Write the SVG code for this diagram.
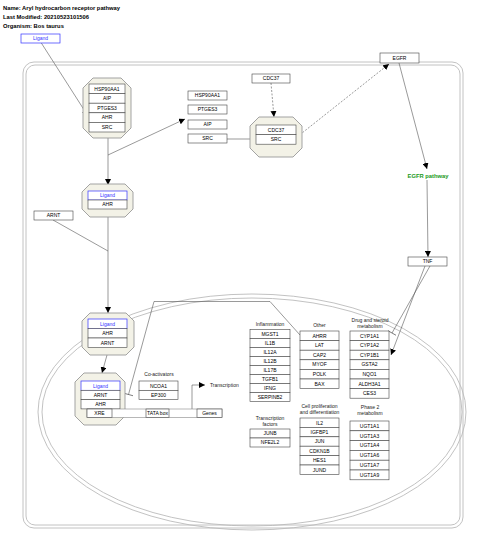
<svg xmlns="http://www.w3.org/2000/svg" width="480" height="544" viewBox="0 0 480 544">
<defs>
<style>
.hd{font-family:"Liberation Sans",Arial,sans-serif;font-size:5.8px;font-weight:bold;fill:#000}
.t{font-family:"Liberation Sans",Arial,sans-serif;font-size:5px;text-anchor:middle;fill:#000}
.lb{font-family:"Liberation Sans",Arial,sans-serif;font-size:5px;text-anchor:middle;fill:#222}
.b{fill:#fff;stroke:#444;stroke-width:0.6}
.lig{fill:#fff;stroke:#3333ff;stroke-width:0.7}
.ligt{fill:#3333ff}
.cx{fill:#f3f2e7;stroke:#999;stroke-width:0.9}
.ln{stroke:#555;stroke-width:0.6;fill:none}
.dash{stroke-dasharray:2,1.5}
.sh{fill:none;stroke:#bbb;stroke-width:0.9}
</style>
<marker id="ar" markerUnits="userSpaceOnUse" markerWidth="6" markerHeight="6" refX="6" refY="3" orient="auto">
<path d="M0,0 L6,3 L0,6 z" fill="#000"/>
</marker>
<marker id="tb" markerUnits="userSpaceOnUse" markerWidth="2" markerHeight="10" refX="1" refY="5" orient="auto">
<path d="M1,0 L1,10" stroke="#555" stroke-width="0.7"/>
</marker>
</defs>
<rect width="480" height="544" fill="#fff"/>
<text class="hd" x="3" y="10">Name: Aryl hydrocarbon receptor pathway</text>
<text class="hd" x="3" y="18.5">Last Modified: 20210523101506</text>
<text class="hd" x="3" y="27.5">Organism: Bos taurus</text>

<g id="cell">
<rect class="sh" x="23" y="62" width="440" height="466" rx="11"/>
<rect class="sh" x="26" y="65" width="434" height="460" rx="9"/>
</g>
<g id="nucleus">
<ellipse class="sh" cx="252" cy="412" rx="214" ry="118"/>
<ellipse class="sh" cx="252" cy="412" rx="210" ry="114"/>
</g>

<g id="connectors">
<path class="ln" d="M40.7,42 L88,116" marker-end="url(#ar)"/>
<path class="ln" d="M108,138 L108,185" marker-end="url(#ar)"/>
<path class="ln" d="M108,155 L185,119" marker-end="url(#ar)"/>
<path class="ln" d="M227,139 L256,139" marker-end="url(#ar)"/>
<path class="ln dash" d="M271,83 L274,117" marker-end="url(#ar)"/>
<path class="ln dash" d="M297,137 L389,64" marker-end="url(#ar)"/>
<path class="ln" d="M399,63 L427,169" marker-end="url(#ar)"/>
<path class="ln" d="M427,180 L428,257" marker-end="url(#ar)"/>
<path class="ln" d="M430,266 L392,333" marker-end="url(#tb)"/>
<path class="ln" d="M425,266 L391,355" marker-end="url(#ar)"/>
<path class="ln" d="M108,217 L108,313" marker-end="url(#ar)"/>
<path class="ln" d="M53,220 L108,251"/>
<path class="ln" d="M107,355 L102,373" marker-end="url(#ar)"/>
<path class="ln" d="M300,335 L270,301.5 L154,301.5 L128.5,394.5" marker-end="url(#tb)"/>
<path class="ln" d="M192,409 L192,385 L205,385" marker-end="url(#ar)"/>
</g>

<g id="ligand0"><rect class="lig" x="21" y="34" width="39" height="9"/><text class="t ligt" x="40.5" y="40.3">Ligand</text></g>

<g id="complex1">
<polygon class="cx" points="93,78 121,78 131,88 131,128 121,138 93,138 83,128 83,88"/>
<rect class="b" x="89" y="84" width="36" height="9.6"/><text class="t" x="107" y="90.6">HSP90AA1</text>
<rect class="b" x="89" y="93.6" width="36" height="9.6"/><text class="t" x="107" y="100.2">AIP</text>
<rect class="b" x="89" y="103.2" width="36" height="9.6"/><text class="t" x="107" y="109.8">PTGES3</text>
<rect class="b" x="89" y="112.8" width="36" height="9.6"/><text class="t" x="107" y="119.4">AHR</text>
<rect class="b" x="89" y="122.4" width="36" height="9.6"/><text class="t" x="107" y="129">SRC</text>
</g>

<g id="hsp90aa1"><rect class="b" x="188" y="91" width="39" height="9"/><text class="t" x="207.5" y="97.3">HSP90AA1</text></g>
<g id="ptges3"><rect class="b" x="188" y="105" width="39" height="9"/><text class="t" x="207.5" y="111.3">PTGES3</text></g>
<g id="aip"><rect class="b" x="188" y="120" width="39" height="9"/><text class="t" x="207.5" y="126.3">AIP</text></g>
<g id="src"><rect class="b" x="188" y="134" width="39" height="9"/><text class="t" x="207.5" y="140.3">SRC</text></g>
<g id="cdc37"><rect class="b" x="252" y="74" width="38" height="9"/><text class="t" x="271" y="80.3">CDC37</text></g>

<g id="complex2">
<polygon class="cx" points="259,117 293,117 302,126 302,148 293,157 259,157 250,148 250,126"/>
<rect class="b" x="256" y="125" width="40" height="9.6"/><text class="t" x="276" y="131.6">CDC37</text>
<rect class="b" x="256" y="134.6" width="40" height="9.6"/><text class="t" x="276" y="141.2">SRC</text>
</g>

<g id="egfr"><rect class="b" x="380" y="53" width="39" height="10"/><text class="t" x="399.5" y="59.8">EGFR</text></g>
<g id="egfrpathway"><text x="428" y="177.5" style="font-family:'Liberation Sans',Arial,sans-serif;font-size:5.8px;font-weight:bold;fill:#1a9a1a;text-anchor:middle">EGFR pathway</text></g>
<g id="tnf"><rect class="b" x="408" y="257" width="39" height="9"/><text class="t" x="427.5" y="263.3">TNF</text></g>

<g id="complex3">
<polygon class="cx" points="90,184 125,184 133,192 133,209 125,217 90,217 82,209 82,192"/>
<rect class="lig" x="88" y="191" width="39" height="9"/><text class="t ligt" x="107.5" y="197.3">Ligand</text>
<rect class="b" x="88" y="200" width="39" height="9"/><text class="t" x="107.5" y="206.3">AHR</text>
</g>
<g id="arnt"><rect class="b" x="34" y="211" width="39" height="9"/><text class="t" x="53.5" y="217.3">ARNT</text></g>

<g id="complex4">
<polygon class="cx" points="90,313 126,313 134,321 134,347 126,355 90,355 82,347 82,321"/>
<rect class="lig" x="88" y="319" width="39" height="9.5"/><text class="t ligt" x="107.5" y="325.6">Ligand</text>
<rect class="b" x="88" y="328.5" width="39" height="9.5"/><text class="t" x="107.5" y="335.1">AHR</text>
<rect class="b" x="88" y="338" width="39" height="9.5"/><text class="t" x="107.5" y="344.6">ARNT</text>
</g>

<g id="complex5">
<polygon class="cx" points="84,373 116,373 125,382 125,416 116,425 84,425 75,416 75,382"/>
<rect class="lig" x="81" y="381" width="39" height="9.3"/><text class="t ligt" x="100.5" y="387.5">Ligand</text>
<rect class="b" x="81" y="390.3" width="39" height="9.3"/><text class="t" x="100.5" y="396.8">ARNT</text>
<rect class="b" x="81" y="399.6" width="39" height="9.3"/><text class="t" x="100.5" y="406.1">AHR</text>
</g>
<g id="dna">
<rect x="87" y="409" width="135" height="8.5" fill="#fff" stroke="#888" stroke-width="0.6"/>
<rect class="b" x="87" y="409" width="25" height="8.5"/><text class="t" x="99.5" y="415.2">XRE</text>
<rect class="b" x="146" y="409" width="23" height="8.5"/><text class="t" x="157.5" y="415.2">TATA box</text>
<rect class="b" x="197" y="409" width="25" height="8.5"/><text class="t" x="209.5" y="415.2">Genes</text>
</g>
<g id="transcription"><text class="lb" x="210" y="387" style="text-anchor:start">Transcription</text></g>

<g id="coactivators">
<text class="lb" x="159" y="376">Co-activators</text>
<rect class="b" x="139" y="381" width="39" height="9.3"/><text class="t" x="158.5" y="387.5">NCOA1</text>
<rect class="b" x="139" y="390.3" width="39" height="9.3"/><text class="t" x="158.5" y="396.8">EP300</text>
</g>

<g id="inflammation">
<text class="lb" x="270" y="325.5">Inflammation</text>
<rect class="b" x="250" y="329.5" width="40" height="9"/><text class="t" x="270" y="335.8">MGST1</text>
<rect class="b" x="250" y="338.5" width="40" height="9"/><text class="t" x="270" y="344.8">IL1B</text>
<rect class="b" x="250" y="347.5" width="40" height="9"/><text class="t" x="270" y="353.8">IL12A</text>
<rect class="b" x="250" y="356.5" width="40" height="9"/><text class="t" x="270" y="362.8">IL12B</text>
<rect class="b" x="250" y="365.5" width="40" height="9"/><text class="t" x="270" y="371.8">IL17B</text>
<rect class="b" x="250" y="374.5" width="40" height="9"/><text class="t" x="270" y="380.8">TGFB1</text>
<rect class="b" x="250" y="383.5" width="40" height="9"/><text class="t" x="270" y="389.8">IFNG</text>
<rect class="b" x="250" y="392.5" width="40" height="9"/><text class="t" x="270" y="398.8">SERPINB2</text>
</g>

<g id="tfs">
<text class="lb" x="270" y="420">Transcription</text>
<text class="lb" x="270" y="426">factors</text>
<rect class="b" x="250" y="429" width="40" height="9"/><text class="t" x="270" y="435.3">JUNB</text>
<rect class="b" x="250" y="438" width="40" height="9"/><text class="t" x="270" y="444.3">NFE2L2</text>
</g>

<g id="other">
<text class="lb" x="319.5" y="326.5">Other</text>
<rect class="b" x="300" y="331" width="39" height="9.6"/><text class="t" x="319.5" y="337.6">AHRR</text>
<rect class="b" x="300" y="340.6" width="39" height="9.6"/><text class="t" x="319.5" y="347.2">LAT</text>
<rect class="b" x="300" y="350.2" width="39" height="9.6"/><text class="t" x="319.5" y="356.8">CAP2</text>
<rect class="b" x="300" y="359.8" width="39" height="9.6"/><text class="t" x="319.5" y="366.4">MYOF</text>
<rect class="b" x="300" y="369.4" width="39" height="9.6"/><text class="t" x="319.5" y="376">POLK</text>
<rect class="b" x="300" y="379" width="39" height="9.6"/><text class="t" x="319.5" y="385.6">BAX</text>
</g>

<g id="cellprolif">
<text class="lb" x="319.5" y="407.5">Cell proliferation</text>
<text class="lb" x="319.5" y="413.5">and differentiation</text>
<rect class="b" x="300" y="418" width="39" height="9.4"/><text class="t" x="319.5" y="424.5">IL2</text>
<rect class="b" x="300" y="427.4" width="39" height="9.4"/><text class="t" x="319.5" y="433.9">IGFBP1</text>
<rect class="b" x="300" y="436.8" width="39" height="9.4"/><text class="t" x="319.5" y="443.3">JUN</text>
<rect class="b" x="300" y="446.2" width="39" height="9.4"/><text class="t" x="319.5" y="452.7">CDKN1B</text>
<rect class="b" x="300" y="455.6" width="39" height="9.4"/><text class="t" x="319.5" y="462.1">HES1</text>
<rect class="b" x="300" y="465" width="39" height="9.4"/><text class="t" x="319.5" y="471.5">JUND</text>
</g>

<g id="drug">
<text class="lb" x="370" y="322">Drug and steroid</text>
<text class="lb" x="370" y="328">metabolism</text>
<rect class="b" x="350" y="331" width="39" height="9.6"/><text class="t" x="369.5" y="337.6">CYP1A1</text>
<rect class="b" x="350" y="340.6" width="39" height="9.6"/><text class="t" x="369.5" y="347.2">CYP1A2</text>
<rect class="b" x="350" y="350.2" width="39" height="9.6"/><text class="t" x="369.5" y="356.8">CYP1B1</text>
<rect class="b" x="350" y="359.8" width="39" height="9.6"/><text class="t" x="369.5" y="366.4">GSTA2</text>
<rect class="b" x="350" y="369.4" width="39" height="9.6"/><text class="t" x="369.5" y="376">NQO1</text>
<rect class="b" x="350" y="379" width="39" height="9.6"/><text class="t" x="369.5" y="385.6">ALDH3A1</text>
<rect class="b" x="350" y="388.6" width="39" height="9.6"/><text class="t" x="369.5" y="395.2">CES3</text>
</g>

<g id="phase2">
<text class="lb" x="370" y="409">Phase 2</text>
<text class="lb" x="370" y="415">metabolism</text>
<rect class="b" x="350" y="421" width="39" height="9.8"/><text class="t" x="369.5" y="427.7">UGT1A1</text>
<rect class="b" x="350" y="430.8" width="39" height="9.8"/><text class="t" x="369.5" y="437.5">UGT1A3</text>
<rect class="b" x="350" y="440.6" width="39" height="9.8"/><text class="t" x="369.5" y="447.3">UGT1A4</text>
<rect class="b" x="350" y="450.4" width="39" height="9.8"/><text class="t" x="369.5" y="457.1">UGT1A6</text>
<rect class="b" x="350" y="460.2" width="39" height="9.8"/><text class="t" x="369.5" y="466.9">UGT1A7</text>
<rect class="b" x="350" y="470" width="39" height="9.8"/><text class="t" x="369.5" y="476.7">UGT1A9</text>
</g>
</svg>
